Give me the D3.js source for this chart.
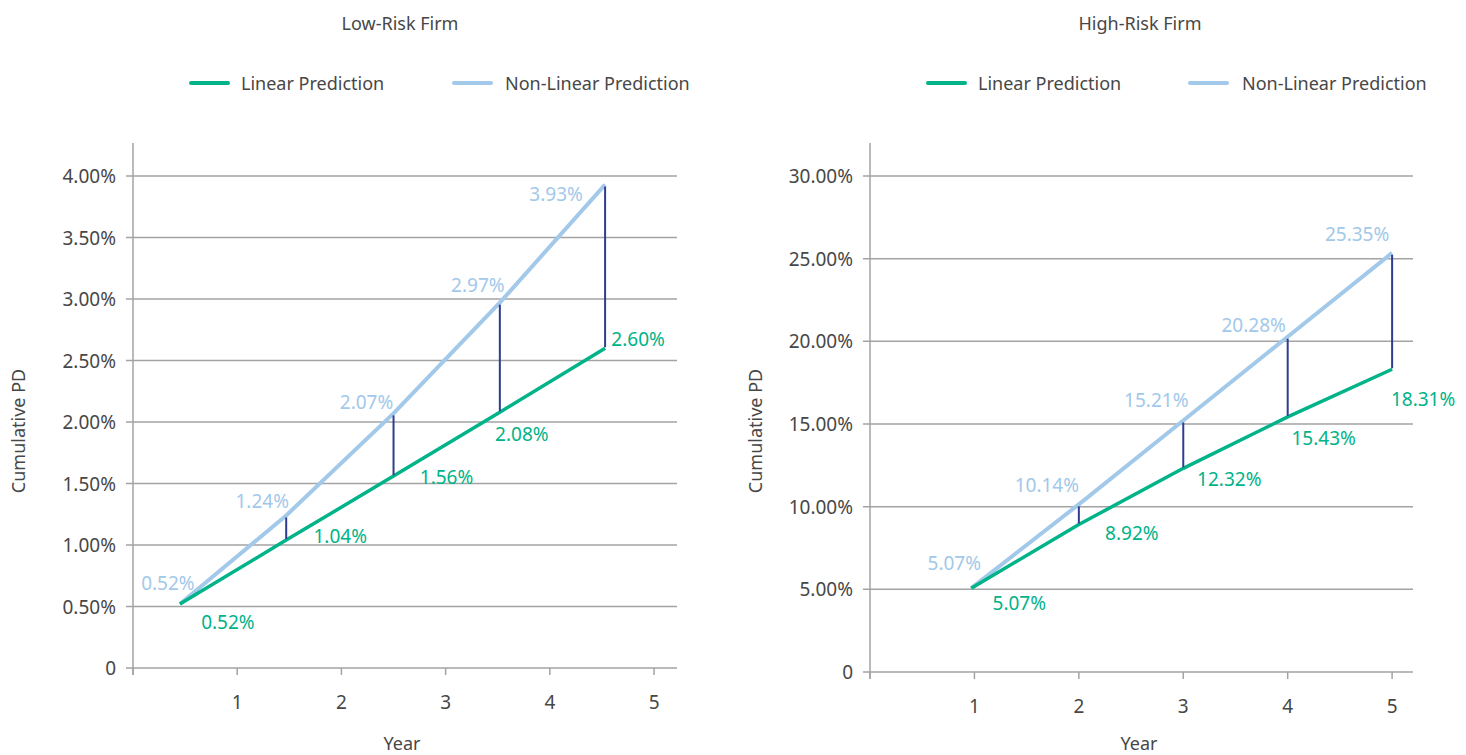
<!DOCTYPE html>
<html>
<head>
<meta charset="utf-8">
<script src="https://cdn.jsdelivr.net/npm/d3@7"></script>
<style>
  html, body { margin: 0; padding: 0; background: #ffffff; }
  svg { display: block; }
  text { font-family: "Noto Sans", "Open Sans", sans-serif; }
</style>
</head>
<body>
<svg id="chart" width="1466" height="755"></svg>
<script>
// ---------------- DATA ----------------
const seriesNames = ["Linear Prediction", "Non-Linear Prediction"];
const panelTitles = ["Low-Risk Firm", "High-Risk Firm"];
const xTickValues = [0, 1, 2, 3, 4, 5];

// Low-risk firm
const lowYears = [0.45, 1.47, 2.5, 3.52, 4.53];
const lowLinear = [0.0052, 0.0104, 0.0156, 0.0208, 0.0260];
const lowNonLinear = [0.0052, 0.0124, 0.0207, 0.0297, 0.0393];
const lowYTicks = [0, 0.005, 0.01, 0.015, 0.02, 0.025, 0.03, 0.035, 0.04];

// High-risk firm
const highYears = [0.97, 2, 3, 4, 5];
const highLinear = [0.0507, 0.0892, 0.1232, 0.1543, 0.1831];
const highNonLinear = [0.0507, 0.1014, 0.1521, 0.2028, 0.2535];
const highYTicks = [0, 0.05, 0.10, 0.15, 0.20, 0.25, 0.30];

// ---------------- LAYOUT / STYLE ----------------
const colors = { linear: "#00b388", nonlinear: "#a2c8ea", gap: "#2e3d8f", grid: "#a3a3a3", text: "#474747" };
const fs = { tick: 19, value: 19, legend: 18, title: 18, axis: 18 };

const panels = [
  {
    title: panelTitles[0], years: lowYears, linear: lowLinear, nonlinear: lowNonLinear, yTicks: lowYTicks,
    xDomain: [0, 5.22], xRange: [133, 677], yDomain: [0, 0.04], yRange: [668, 176], yTop: 143,
    titleX: 400, yLabelX: 18, xLabelX: 402,
    legend: { g1: 191, t1: 241, g2: 454, t2: 505 },
    nlOff: [[-12, -21], [-24, -14], [-27, -11], [-22, -18], [-49, 9]],
    lOff: [[48, 18], [54, -4], [53, 1], [22, 22], [33, -9]]
  },
  {
    title: panelTitles[1], years: highYears, linear: highLinear, nonlinear: highNonLinear, yTicks: highYTicks,
    xDomain: [0, 5.2], xRange: [870, 1413], yDomain: [0, 0.30], yRange: [672, 176], yTop: 143,
    titleX: 1140, yLabelX: 755, xLabelX: 1139,
    legend: { g1: 928, t1: 978, g2: 1190, t2: 1242 },
    nlOff: [[-17, -25], [-32, -19], [-27, -21], [-34, -12], [-35, -19]],
    lOff: [[48, 15], [53, 8], [46, 11], [36, 21], [31, 30]]
  }
];

const svg = d3.select("#chart");
const fmt = v => v === 0 ? "0" : (v * 100).toFixed(2) + "%";

panels.forEach(p => {
  const x = d3.scaleLinear().domain(p.xDomain).range(p.xRange);
  const y = d3.scaleLinear().domain(p.yDomain).range(p.yRange);
  const g = svg.append("g");
  const x0 = x(0);
  const yBottom = y(0);

  // Title
  g.append("text").attr("x", p.titleX).attr("y", 23).attr("text-anchor", "middle")
    .attr("dominant-baseline", "central").attr("font-size", fs.title).attr("fill", colors.text).text(p.title);

  // Legend
  const ly = 83;
  [[p.legend.g1, p.legend.t1, colors.linear, seriesNames[0]], [p.legend.g2, p.legend.t2, colors.nonlinear, seriesNames[1]]]
    .forEach(([lx, tx, c, name]) => {
      g.append("line").attr("x1", lx).attr("x2", lx + 37).attr("y1", ly).attr("y2", ly)
        .attr("stroke", c).attr("stroke-width", 4).attr("stroke-linecap", "round");
      g.append("text").attr("x", tx).attr("y", ly).attr("dominant-baseline", "central")
        .attr("font-size", fs.legend).attr("fill", colors.text).text(name);
    });

  // Gridlines
  g.append("g").selectAll("line").data(p.yTicks).join("line")
    .attr("x1", x0 - 7).attr("x2", p.xRange[1])
    .attr("y1", d => y(d)).attr("y2", d => y(d))
    .attr("stroke", colors.grid).attr("stroke-width", 1.5);

  // Y axis line
  g.append("line").attr("x1", x0).attr("x2", x0).attr("y1", p.yTop).attr("y2", yBottom + 7)
    .attr("stroke", colors.grid).attr("stroke-width", 1.5);

  // Y tick labels
  g.append("g").selectAll("text").data(p.yTicks).join("text")
    .attr("x", x0 - 17).attr("y", d => y(d)).attr("text-anchor", "end").attr("dominant-baseline", "central")
    .attr("font-size", fs.tick).attr("fill", colors.text).text(fmt);

  // X ticks
  g.append("g").selectAll("line").data(xTickValues).join("line")
    .attr("x1", d => x(d)).attr("x2", d => x(d)).attr("y1", yBottom).attr("y2", yBottom + 7)
    .attr("stroke", colors.grid).attr("stroke-width", 1.5);
  g.append("g").selectAll("text").data(xTickValues.filter(d => d > 0)).join("text")
    .attr("x", d => x(d)).attr("y", yBottom + 34).attr("text-anchor", "middle").attr("dominant-baseline", "central")
    .attr("font-size", fs.tick).attr("fill", colors.text).text(d => d);

  // Axis titles
  g.append("text").attr("x", p.xLabelX).attr("y", 743).attr("text-anchor", "middle").attr("dominant-baseline", "central")
    .attr("font-size", fs.axis).attr("fill", colors.text).text("Year");
  g.append("text").attr("transform", `translate(${p.yLabelX},431) rotate(-90)`).attr("text-anchor", "middle")
    .attr("dominant-baseline", "central").attr("font-size", fs.axis).attr("fill", colors.text).text("Cumulative PD");

  // Lines
  const line = d3.line().x(d => x(d[0])).y(d => y(d[1]));
  const linPts = p.years.map((yr, i) => [yr, p.linear[i]]);
  const nlPts = p.years.map((yr, i) => [yr, p.nonlinear[i]]);
  g.append("path").attr("d", line(nlPts)).attr("fill", "none").attr("stroke", colors.nonlinear).attr("stroke-width", 4);
  g.append("path").attr("d", line(linPts)).attr("fill", "none").attr("stroke", colors.linear).attr("stroke-width", 3.5);

  // Gap connectors
  g.append("g").selectAll("line").data(p.years.map((yr, i) => i).filter(i => i > 0)).join("line")
    .attr("x1", i => x(p.years[i])).attr("x2", i => x(p.years[i]))
    .attr("y1", i => y(p.nonlinear[i]) + 2).attr("y2", i => y(p.linear[i]) - 1)
    .attr("stroke", colors.gap).attr("stroke-width", 2);

  // Value labels
  g.append("g").selectAll("text").data(nlPts).join("text")
    .attr("x", (d, i) => x(d[0]) + p.nlOff[i][0]).attr("y", (d, i) => y(d[1]) + p.nlOff[i][1])
    .attr("text-anchor", "middle").attr("dominant-baseline", "central")
    .attr("font-size", fs.value).attr("fill", colors.nonlinear).text(d => (d[1] * 100).toFixed(2) + "%");
  g.append("g").selectAll("text").data(linPts).join("text")
    .attr("x", (d, i) => x(d[0]) + p.lOff[i][0]).attr("y", (d, i) => y(d[1]) + p.lOff[i][1])
    .attr("text-anchor", "middle").attr("dominant-baseline", "central")
    .attr("font-size", fs.value).attr("fill", colors.linear).text(d => (d[1] * 100).toFixed(2) + "%");
});
</script>
</body>
</html>
